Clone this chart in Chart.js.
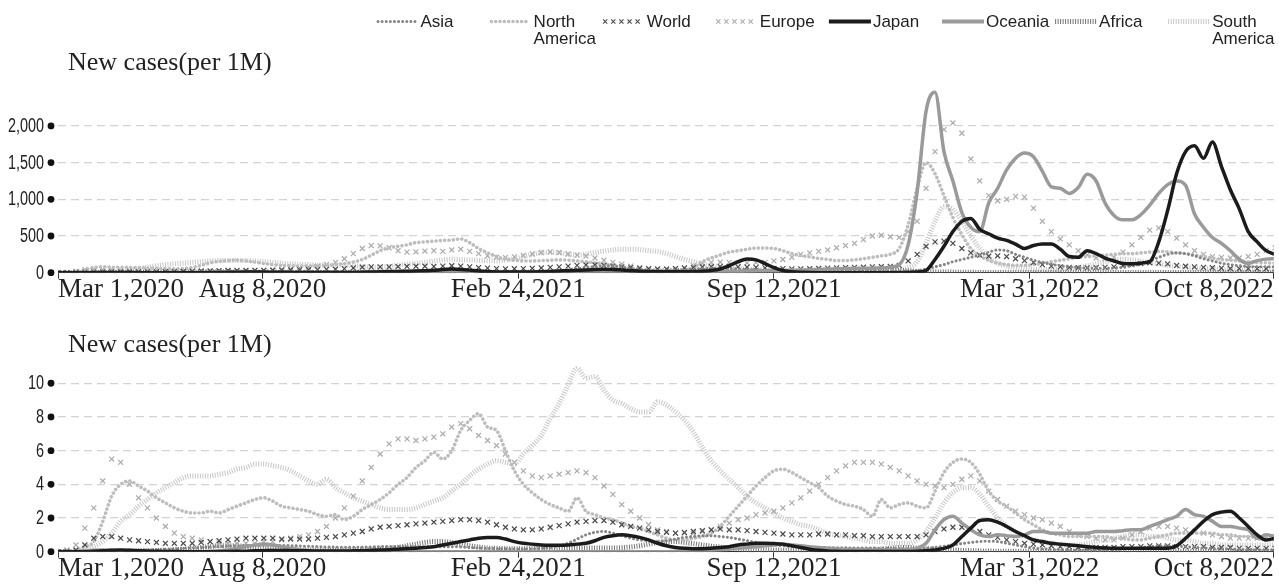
<!DOCTYPE html>
<html>
<head>
<meta charset="utf-8">
<script src="https://cdn.jsdelivr.net/npm/chart.js@4/dist/chart.umd.min.js"></script>
<style>
  html, body { margin: 0; padding: 0; background: #fff; overflow: hidden; }
  #wrap { position: relative; width: 1279px; height: 585px; overflow: hidden; }
  canvas { position: absolute; left: 0; }
  #chartA { top: 0; }
  #chartB { top: 300px; }
</style>
</head>
<body>
<div id="wrap">
  <canvas id="chartA" width="1279" height="320"></canvas>
  <canvas id="chartB" width="1279" height="285"></canvas>
</div>
<script>
// ---- axis categories -------------------------------------------------------
// Samples are weekly, counted in days from Mar 1, 2020.
const SAMPLE_STEP_DAYS = 7;
const LAST_DAY = 951;                       // Oct 8, 2022
const tickDays   = [0, 160, 360, 560, 760, 951];
const tickLabels = ['Mar 1,2020', 'Aug 8,2020', 'Feb 24,2021', 'Sep 12,2021', 'Mar 31,2022', 'Oct 8,2022'];
const panelTitle = 'New cases(per 1M)';

const seriesNames = ['Asia', 'North America', 'World', 'Europe', 'Japan', 'Oceania', 'Africa', 'South America'];

// ---- upper panel: weekly values per 1M -------------------------------------
const upperAsia = [0,0,1,2,3,3,4,4,4,5,
  5,6,7,8,9,10,11,13,15,17,
  19,20,20,21,22,22,22,21,20,19,
  18,17,17,17,17,17,18,18,18,18,
  18,18,18,18,17,15,13,12,11,11,
  11,12,12,13,15,20,28,40,55,70,
  85,95,90,75,55,40,32,28,28,32,
  40,50,58,62,62,58,52,45,40,35,
  30,26,22,20,18,17,17,18,20,22,
  22,22,22,22,22,22,28,50,80,110,
  150,180,210,240,280,310,300,250,210,170,
  140,115,95,80,70,62,60,60,65,75,
  95,120,160,210,250,270,260,230,190,160,
  130,110,95,85,80,80,80];
const upperNorthAmerica = [0,1,8,40,70,80,75,75,72,68,
  65,60,55,52,55,70,100,135,155,165,
  170,160,145,125,110,100,95,90,90,95,
  100,110,125,145,180,240,300,340,360,380,
  410,420,430,440,445,460,410,330,270,220,
  185,170,160,160,165,170,175,170,160,150,
  135,120,100,80,60,50,40,35,30,30,
  35,70,150,200,240,280,300,320,335,335,
  330,300,260,235,215,195,180,165,165,175,
  190,210,230,250,330,650,1150,1500,1350,1050,
  750,520,330,230,170,130,110,100,100,110,
  130,150,170,190,210,220,230,240,250,260,
  260,270,280,290,285,270,260,240,220,200,
  180,170,160,150,140,135,130];
const upperWorld = [0,1,3,6,10,11,11,11,10,11,
  11,12,13,15,17,20,23,26,28,30,
  32,33,33,33,34,35,37,38,40,42,
  45,48,55,65,75,80,80,80,82,85,
  88,88,85,90,95,90,80,70,62,56,
  53,54,56,60,65,72,80,90,100,105,
  105,100,90,80,70,60,52,50,50,55,
  62,70,78,82,84,84,80,76,72,66,
  60,56,52,52,54,58,62,66,70,72,
  75,80,82,85,100,160,250,360,420,430,
  400,330,270,240,225,230,220,190,165,140,
  110,90,80,72,68,66,68,72,80,95,
  110,125,135,130,120,100,88,80,72,68,
  62,58,55,55,55,55,55];
const upperEurope = [0,3,20,42,45,43,40,35,28,22,
  20,18,16,15,14,14,15,16,18,20,
  22,24,28,32,38,44,52,62,75,90,
  110,140,190,260,330,370,365,340,300,280,
  285,295,300,290,310,320,290,260,230,210,
  205,215,235,255,275,285,275,255,240,225,
  200,170,140,115,90,70,58,52,50,55,
  70,95,125,140,145,140,135,135,140,140,
  160,180,210,250,270,290,310,340,370,400,
  450,500,510,490,480,560,700,1150,1650,1950,
  2040,1900,1550,1250,1050,980,1000,1040,1030,880,
  700,560,460,380,300,240,200,190,210,280,
  380,480,580,610,560,470,380,300,250,220,
  210,200,200,220,250,300,340];
const upperJapan = [0,0,0,0,1,2,3,3,2,1,
  1,0,0,0,0,0,1,2,3,5,
  7,9,9,8,6,5,4,4,4,4,
  4,4,4,4,5,8,12,16,18,20,
  22,26,32,44,50,45,35,22,15,11,
  9,9,10,11,14,18,22,28,32,36,
  42,48,44,36,28,20,16,13,12,13,
  14,16,20,30,50,95,150,185,175,125,
  70,30,12,5,2,1,1,1,1,1,
  1,1,1,1,1,2,8,30,180,360,
  560,700,740,590,530,470,440,390,330,370,
  390,390,320,220,210,300,260,200,160,125,
  122,130,150,420,850,1350,1650,1730,1560,1780,
  1450,1130,870,560,420,300,250];
const upperOceania = [0,0,1,2,2,1,0,0,0,0,
  0,0,0,0,1,1,2,4,8,12,
  14,12,9,5,3,2,1,1,1,1,
  1,1,1,1,1,1,1,1,1,1,
  1,1,1,1,1,1,1,1,1,1,
  1,1,1,1,1,1,1,1,1,1,
  1,1,1,1,1,1,1,1,1,2,
  2,3,5,8,12,15,18,22,25,28,
  30,30,32,36,40,45,50,55,58,60,
  60,62,65,75,110,380,1100,2200,2460,1650,
  1250,820,620,560,950,1150,1400,1560,1630,1580,
  1380,1170,1150,1080,1160,1340,1250,950,780,720,
  720,790,920,1080,1200,1250,1190,800,620,480,
  400,300,180,125,165,185,190];
const upperAfrica = [0,0,0,0,1,1,1,2,2,3,
  3,4,5,6,8,10,12,14,14,12,
  10,8,6,5,4,4,4,4,4,4,
  4,4,4,5,5,5,6,7,8,10,
  13,16,20,20,18,15,12,9,8,7,
  6,6,6,6,6,6,6,6,7,7,
  7,7,7,7,8,10,15,22,28,30,
  28,24,20,17,15,13,11,9,7,6,
  5,5,4,4,4,4,4,4,4,5,
  10,20,33,38,32,25,20,16,12,10,
  8,6,5,4,4,3,3,3,3,4,
  4,5,6,6,5,4,4,4,4,4,
  3,3,3,2,2,2,2,2,2,2,
  2,1,1,1,1,1,1];
const upperSouthAmerica = [0,0,1,3,6,10,14,22,35,55,
  75,95,110,120,130,140,150,160,165,165,
  165,165,160,150,140,130,120,115,110,105,
  105,105,100,95,85,75,75,85,100,115,
  125,140,160,175,185,180,175,170,165,160,
  170,190,215,250,270,275,270,250,240,250,
  275,295,310,320,320,315,300,290,260,220,
  180,150,120,95,75,65,55,50,45,40,
  35,30,28,25,25,25,25,25,27,30,
  30,30,30,32,40,70,150,400,700,900,
  860,700,500,330,200,130,90,70,55,45,
  40,40,45,55,70,95,120,150,170,180,
  175,160,140,120,100,85,75,65,55,50,
  45,40,40,40,42,45,50];

// ---- lower panel: weekly values per 1M -------------------------------------
const lowerAsia = [0,0.01,0.02,0.05,0.07,0.08,0.08,0.08,0.08,0.09,
  0.1,0.12,0.14,0.16,0.2,0.22,0.25,0.28,0.3,0.32,
  0.34,0.36,0.37,0.38,0.38,0.37,0.36,0.34,0.32,0.3,
  0.28,0.27,0.26,0.26,0.27,0.28,0.3,0.31,0.31,0.3,
  0.3,0.3,0.3,0.3,0.3,0.28,0.25,0.22,0.2,0.18,
  0.17,0.16,0.16,0.17,0.2,0.25,0.35,0.5,0.75,1.0,
  1.15,1.2,1.1,0.95,0.8,0.7,0.65,0.6,0.65,0.75,
  0.85,0.9,0.95,0.95,0.9,0.85,0.75,0.65,0.55,0.45,
  0.4,0.35,0.3,0.28,0.26,0.25,0.24,0.23,0.23,0.22,
  0.22,0.22,0.2,0.2,0.19,0.18,0.18,0.2,0.25,0.32,
  0.4,0.48,0.55,0.6,0.62,0.6,0.5,0.4,0.3,0.22,
  0.17,0.14,0.12,0.1,0.09,0.09,0.09,0.1,0.12,0.15,
  0.2,0.25,0.3,0.33,0.35,0.33,0.3,0.26,0.22,0.2,
  0.18,0.16,0.14,0.13,0.12,0.12,0.12];
const lowerNorthAmerica = [0,0,0.1,0.3,0.6,1.8,3.3,4.0,4.2,3.9,
  3.6,3.2,2.9,2.6,2.4,2.3,2.3,2.4,2.3,2.5,
  2.7,2.9,3.1,3.2,3.0,2.7,2.6,2.5,2.4,2.2,
  2.1,2.2,1.9,2.1,2.5,2.8,3.1,3.5,4.0,4.4,
  5.0,5.4,5.9,5.5,6.0,7.2,7.8,8.2,7.4,7.2,
  6.0,4.8,4.0,3.5,3.1,2.8,2.6,2.4,3.2,2.4,
  2.2,2.0,1.9,1.7,1.5,1.4,1.2,1.0,0.8,0.7,
  0.7,0.8,0.9,1.1,1.5,2.1,2.7,3.3,3.9,4.4,
  4.8,4.9,4.7,4.4,4.1,3.8,3.3,3.0,2.8,2.7,
  2.5,2.1,3.1,2.6,2.8,2.9,2.7,2.6,3.6,4.7,
  5.3,5.5,5.3,4.6,3.6,3.0,2.7,2.3,1.9,1.6,
  1.3,1.1,1.0,0.9,0.9,0.9,0.9,0.9,0.8,0.8,
  0.7,0.7,0.8,0.9,1.0,1.1,1.1,1.1,1.1,1.1,
  1.0,1.0,0.9,0.9,0.8,0.7,0.7];
const lowerWorld = [0,0.02,0.1,0.4,0.8,0.9,0.9,0.8,0.7,0.65,
  0.6,0.55,0.5,0.5,0.5,0.5,0.55,0.6,0.65,0.7,
  0.75,0.8,0.8,0.8,0.8,0.75,0.75,0.75,0.75,0.8,
  0.85,0.9,1.0,1.1,1.2,1.35,1.45,1.5,1.55,1.6,
  1.65,1.7,1.75,1.8,1.85,1.9,1.9,1.85,1.75,1.6,
  1.45,1.35,1.3,1.3,1.35,1.45,1.55,1.65,1.75,1.8,
  1.85,1.85,1.75,1.6,1.5,1.4,1.3,1.2,1.15,1.1,
  1.15,1.2,1.25,1.3,1.35,1.3,1.3,1.25,1.2,1.15,
  1.1,1.05,1.0,1.0,1.0,1.05,1.05,1.0,1.0,0.95,
  0.95,0.9,0.9,0.9,0.9,0.9,0.9,1.0,1.2,1.35,
  1.45,1.45,1.35,1.2,1.0,0.85,0.7,0.6,0.5,0.45,
  0.4,0.35,0.3,0.3,0.25,0.25,0.25,0.25,0.25,0.3,
  0.3,0.3,0.35,0.35,0.35,0.3,0.3,0.3,0.3,0.25,
  0.25,0.25,0.2,0.2,0.2,0.2,0.2];
const lowerEurope = [0,0.1,0.4,1.4,2.6,4.2,5.5,5.3,4.0,3.2,
  2.6,2.0,1.5,1.1,0.9,0.8,0.7,0.6,0.5,0.5,
  0.5,0.5,0.5,0.6,0.6,0.7,0.8,0.9,1.0,1.2,
  1.5,2.0,2.6,3.3,4.2,5.0,5.8,6.4,6.7,6.7,
  6.6,6.7,6.8,7.0,7.4,7.6,7.3,6.9,6.6,6.3,
  5.8,5.3,4.8,4.5,4.4,4.5,4.6,4.7,4.8,4.7,
  4.4,3.9,3.4,2.8,2.4,2.0,1.6,1.3,1.2,1.1,
  1.1,1.1,1.2,1.3,1.5,1.7,1.9,2.0,2.2,2.3,
  2.4,2.6,2.9,3.2,3.6,4.0,4.4,4.8,5.1,5.3,
  5.3,5.3,5.2,5.0,4.8,4.5,4.2,4.0,3.9,3.8,
  4.0,4.3,4.5,4.2,3.6,3.1,2.7,2.4,2.2,2.0,
  1.9,1.7,1.5,1.2,1.0,0.9,0.8,0.7,0.7,0.8,
  1.0,1.2,1.4,1.5,1.5,1.4,1.3,1.2,1.1,1.0,
  0.9,0.8,0.8,0.8,0.8,0.9,0.9];
const lowerJapan = [0,0,0,0,0.02,0.05,0.08,0.1,0.08,0.06,
  0.04,0.02,0.01,0.01,0,0,0,0,0,0.01,
  0.02,0.03,0.05,0.06,0.07,0.07,0.06,0.05,0.05,0.04,
  0.04,0.04,0.04,0.05,0.06,0.08,0.1,0.12,0.15,0.18,
  0.2,0.25,0.3,0.4,0.5,0.6,0.7,0.8,0.85,0.85,
  0.75,0.6,0.5,0.45,0.4,0.38,0.38,0.4,0.45,0.5,
  0.65,0.85,0.95,1.0,0.95,0.85,0.7,0.5,0.35,0.25,
  0.2,0.18,0.18,0.2,0.25,0.3,0.4,0.45,0.5,0.5,
  0.48,0.45,0.35,0.25,0.15,0.08,0.04,0.02,0.01,0.01,
  0.01,0.01,0.01,0.01,0.01,0.01,0.02,0.05,0.1,0.2,
  0.4,0.9,1.4,1.85,1.9,1.75,1.5,1.2,0.95,0.7,
  0.6,0.5,0.45,0.4,0.35,0.3,0.25,0.22,0.2,0.2,
  0.2,0.2,0.2,0.2,0.2,0.35,0.8,1.3,1.8,2.2,
  2.35,2.4,2.0,1.5,1.0,0.7,0.8];
const lowerOceania = [0,0,0,0.05,0.08,0.1,0.08,0.05,0.02,0.01,
  0,0,0,0,0,0,0,0.02,0.05,0.1,
  0.2,0.3,0.4,0.45,0.4,0.3,0.2,0.12,0.06,0.03,
  0.02,0.01,0,0,0,0,0,0,0,0,
  0,0,0,0,0,0,0,0,0,0,
  0,0,0,0,0,0,0,0,0,0,
  0,0,0,0,0,0,0,0,0,0.01,
  0.02,0.03,0.05,0.08,0.12,0.15,0.2,0.25,0.3,0.35,
  0.4,0.45,0.4,0.35,0.3,0.25,0.2,0.18,0.15,0.15,
  0.12,0.1,0.1,0.1,0.1,0.12,0.2,0.5,1.3,1.9,
  2.1,1.7,1.3,1.0,0.9,1.0,0.95,0.9,1.0,1.2,
  1.2,1.1,1.1,1.1,1.1,1.1,1.2,1.2,1.2,1.25,
  1.3,1.3,1.5,1.7,1.9,2.1,2.5,2.2,2.1,1.8,
  1.5,1.5,1.4,1.3,0.8,1.0,0.9];
const lowerAfrica = [0,0,0,0.01,0.02,0.02,0.03,0.03,0.04,0.05,
  0.06,0.07,0.09,0.12,0.15,0.2,0.25,0.3,0.35,0.36,
  0.35,0.3,0.25,0.2,0.16,0.13,0.12,0.11,0.1,0.1,
  0.1,0.1,0.11,0.12,0.13,0.14,0.16,0.2,0.26,0.35,
  0.45,0.55,0.6,0.6,0.55,0.45,0.35,0.28,0.22,0.2,
  0.18,0.17,0.17,0.17,0.17,0.17,0.17,0.18,0.2,0.22,
  0.22,0.22,0.22,0.24,0.28,0.35,0.45,0.55,0.6,0.6,
  0.55,0.48,0.4,0.33,0.27,0.22,0.18,0.15,0.13,0.12,
  0.1,0.09,0.08,0.07,0.06,0.06,0.06,0.06,0.06,0.07,
  0.09,0.12,0.16,0.2,0.24,0.25,0.22,0.18,0.15,0.12,
  0.1,0.08,0.06,0.05,0.04,0.03,0.03,0.03,0.03,0.03,
  0.03,0.03,0.03,0.03,0.03,0.03,0.03,0.03,0.03,0.03,
  0.03,0.03,0.03,0.03,0.02,0.02,0.02,0.02,0.02,0.02,
  0.02,0.02,0.02,0.02,0.02,0.02,0.02];
const lowerSouthAmerica = [0,0,0,0.1,0.3,0.6,1.1,1.8,2.2,2.7,
  3.1,3.5,3.8,4.1,4.4,4.5,4.5,4.5,4.6,4.7,
  4.9,5.0,5.2,5.2,5.1,5.0,4.8,4.5,4.2,4.0,
  4.3,3.8,3.5,3.2,3.0,2.8,2.6,2.5,2.5,2.5,
  2.6,2.8,3.0,3.2,3.6,4.0,4.5,4.9,5.2,5.4,
  5.3,5.2,5.8,6.3,6.9,7.9,8.8,9.9,10.9,10.3,
  10.4,9.6,9.0,8.8,8.5,8.3,8.3,8.9,8.7,8.3,
  7.8,7.1,6.2,5.4,4.8,4.3,3.8,3.3,2.9,2.6,
  2.3,2.0,1.8,1.6,1.5,1.3,1.1,1.0,0.9,0.8,
  0.7,0.6,0.6,0.5,0.5,0.5,0.7,1.2,2.0,2.9,
  3.5,3.8,3.8,3.4,2.7,2.0,1.5,1.2,0.9,0.7,
  0.6,0.5,0.4,0.4,0.4,0.5,0.6,0.7,0.8,0.9,
  1.0,1.0,0.9,0.9,0.8,0.7,0.7,0.6,0.5,0.5,
  0.4,0.4,0.4,0.4,0.4,0.4,0.4];

// ---- series styling (same order as seriesNames) -----------------------------
const seriesStyles = [
  { kind: 'dots',  color: '#858585', width: 3.0, gap: 4.1, order: 3 },   // Asia
  { kind: 'dots',  color: '#bdbdbd', width: 3.6, gap: 4.3, order: 5 },   // North America
  { kind: 'cross', color: '#4a4a4a', order: 4 },                         // World
  { kind: 'cross', color: '#ababab', order: 6 },                         // Europe
  { kind: 'solid', color: '#1b1b1b', width: 3.5, order: 1 },             // Japan
  { kind: 'solid', color: '#9a9a9a', width: 3.5, order: 2 },             // Oceania
  { kind: 'hatch', color: '#747474', width: 5, order: 7 },               // Africa
  { kind: 'hatch', color: '#c6c6c6', width: 5, order: 8 }                // South America
];

const SERIF = "'Liberation Serif', 'Times New Roman', serif";
const SANS = "'Liberation Sans', Arial, sans-serif";

function buildDatasets(seriesValues) {
  return seriesNames.map((name, k) => {
    const st = seriesStyles[k];
    const ds = {
      label: name,
      data: seriesValues[k].map((v, i) => ({ x: i * SAMPLE_STEP_DAYS, y: v })),
      order: st.order,
      borderColor: st.color,
      backgroundColor: st.color,
      fill: false,
      cubicInterpolationMode: 'monotone'
    };
    if (st.kind === 'cross') {
      Object.assign(ds, {
        showLine: false, pointStyle: 'crossRot', pointRadius: 3.5,
        pointBorderWidth: 1.2, pointBorderColor: st.color, borderWidth: 1.2
      });
    } else {
      Object.assign(ds, {
        pointRadius: 0,
        borderWidth: st.width,
        borderDash: st.kind === 'dots' ? [0.01, st.gap] : (st.kind === 'hatch' ? [1, 1.5] : []),
        borderCapStyle: st.kind === 'dots' ? 'round' : 'butt',
        borderJoinStyle: 'round'
      });
    }
    return ds;
  });
}

// Title text above each panel
const panelTitlePlugin = {
  id: 'panelTitle',
  afterDraw(chart, args, opts) {
    const ctx = chart.ctx;
    ctx.save();
    ctx.font = opts.font;
    ctx.fillStyle = opts.color;
    ctx.textBaseline = 'alphabetic';
    ctx.textAlign = 'left';
    ctx.fillText(opts.text, opts.x, opts.y);
    ctx.restore();
  }
};

// Condensed value labels with a filled dot marker beside each one
const axisLabelsPlugin = {
  id: 'axisLabels',
  afterDraw(chart, args, opts) {
    const s = chart.scales.y;
    const ctx = chart.ctx;
    ctx.save();
    s.ticks.forEach(t => {
      const y = s.getPixelForValue(t.value);
      ctx.fillStyle = opts.dotColor;
      ctx.beginPath();
      ctx.arc(s.right - opts.dotInset, y, opts.dotRadius, 0, Math.PI * 2);
      ctx.fill();
      ctx.save();
      ctx.translate(s.right - opts.textInset, y);
      ctx.scale(opts.squeeze, 1);
      ctx.font = opts.font;
      ctx.fillStyle = opts.color;
      ctx.textAlign = 'right';
      ctx.textBaseline = 'middle';
      ctx.fillText(t.value.toLocaleString('en-US'), 0, 0.5);
      ctx.restore();
    });
    ctx.restore();
  }
};

// Fixed-width legend row with line-pattern swatches
function wrapText(ctx, text, maxW) {
  if (ctx.measureText(text).width <= maxW) return [text];
  const words = text.split(' ');
  const lines = [];
  let cur = '';
  words.forEach(w => {
    const test = cur ? cur + ' ' + w : w;
    if (cur && ctx.measureText(test).width > maxW) { lines.push(cur); cur = w; }
    else cur = test;
  });
  if (cur) lines.push(cur);
  return lines;
}
const gridLegendPlugin = {
  id: 'gridLegend',
  afterDraw(chart, args, opts) {
    const ctx = chart.ctx;
    ctx.save();
    ctx.font = opts.font;
    chart.data.datasets.forEach((ds, k) => {
      const st = seriesStyles[k];
      const x0 = opts.left + k * opts.itemWidth;
      const x1 = x0 + opts.swatchWidth;
      const y = opts.swatchY;
      ctx.save();
      ctx.strokeStyle = st.color;
      if (st.kind === 'cross') {
        ctx.lineWidth = 1.1;
        const r = 2.1;
        for (let n = 0; n < 5; n++) {
          const cx = x0 + 2.5 + n * 8.1;
          ctx.beginPath();
          ctx.moveTo(cx - r, y - r); ctx.lineTo(cx + r, y + r);
          ctx.moveTo(cx - r, y + r); ctx.lineTo(cx + r, y - r);
          ctx.stroke();
        }
      } else {
        ctx.lineWidth = st.kind === 'solid' ? 4 : ds.borderWidth;
        ctx.setLineDash(ds.borderDash || []);
        ctx.lineCap = ds.borderCapStyle;
        const pad = st.kind === 'dots' ? st.width / 2 : 0;
        ctx.beginPath();
        ctx.moveTo(x0 + pad, y);
        ctx.lineTo(x1 - pad, y);
        ctx.stroke();
      }
      ctx.restore();
      ctx.fillStyle = opts.color;
      ctx.textBaseline = 'alphabetic';
      ctx.textAlign = 'left';
      wrapText(ctx, ds.label, opts.maxTextWidth).forEach((ln, j) => {
        ctx.fillText(ln, x0 + opts.textOffset, opts.textY + j * opts.lineHeight);
      });
    });
    ctx.restore();
  }
};

function makeChart(canvasId, seriesValues, cfg) {
  return new Chart(document.getElementById(canvasId), {
    type: 'line',
    data: { datasets: buildDatasets(seriesValues) },
    plugins: cfg.plugins,
    options: {
      responsive: false,
      animation: false,
      events: [],
      layout: { padding: { top: cfg.padTop, left: 0, right: 0, bottom: 0 } },
      plugins: Object.assign({
        legend: { display: false },
        tooltip: { enabled: false },
        panelTitle: { text: panelTitle, x: 68, y: cfg.titleY, font: '26px ' + SERIF, color: '#222' },
        axisLabels: {
          dotInset: 7, dotRadius: 3.4, dotColor: '#111',
          textInset: 14, squeeze: 0.72, font: '20px ' + SANS, color: '#222'
        }
      }, cfg.extraPlugins || {}),
      scales: {
        x: {
          type: 'linear',
          min: 0,
          max: LAST_DAY,
          afterBuildTicks(scale) { scale.ticks = tickDays.map(v => ({ value: v })); },
          afterFit(scale) { scale.height = cfg.xAxisHeight; },
          ticks: {
            autoSkip: false, maxRotation: 0, minRotation: 0, align: 'inner', padding: -2,
            color: '#222',
            font: { family: SERIF, size: 27, lineHeight: 1 },
            callback: (v, i) => tickLabels[i]
          },
          grid: { drawOnChartArea: false, drawTicks: true, tickLength: 6, color: '#333', lineWidth: 1 },
          border: { display: true, color: '#333', width: 1 }
        },
        y: {
          min: 0,
          max: cfg.yMax,
          afterBuildTicks(scale) {
            const ticks = [];
            for (let v = 0; v <= cfg.yTop; v += cfg.yStep) ticks.push({ value: v });
            scale.ticks = ticks;
          },
          afterFit(scale) { scale.width = 58; },
          ticks: { display: false },
          grid: { color: '#d3d3d3', lineWidth: 1.3, drawTicks: false },
          border: { display: false, dash: [8, 5] }
        }
      }
    }
  });
}

makeChart('chartA',
  [upperAsia, upperNorthAmerica, upperWorld, upperEurope, upperJapan, upperOceania, upperAfrica, upperSouthAmerica],
  {
    padTop: 89.2, xAxisHeight: 47.3, yMax: 2500, yTop: 2000, yStep: 500, titleY: 70,
    plugins: [panelTitlePlugin, axisLabelsPlugin, gridLegendPlugin],
    extraPlugins: {
      gridLegend: {
        left: 376.5, itemWidth: 113.1, swatchWidth: 42, swatchY: 21.5,
        textOffset: 44, textY: 27, lineHeight: 16.5, maxTextWidth: 66,
        font: '17px ' + SANS, color: '#222'
      }
    }
  });

makeChart('chartB',
  [lowerAsia, lowerNorthAmerica, lowerWorld, lowerEurope, lowerJapan, lowerOceania, lowerAfrica, lowerSouthAmerica],
  {
    padTop: 66.4, xAxisHeight: 33.3, yMax: 11, yTop: 10, yStep: 2, titleY: 51.7,
    plugins: [panelTitlePlugin, axisLabelsPlugin]
  });
</script>
</body>
</html>
